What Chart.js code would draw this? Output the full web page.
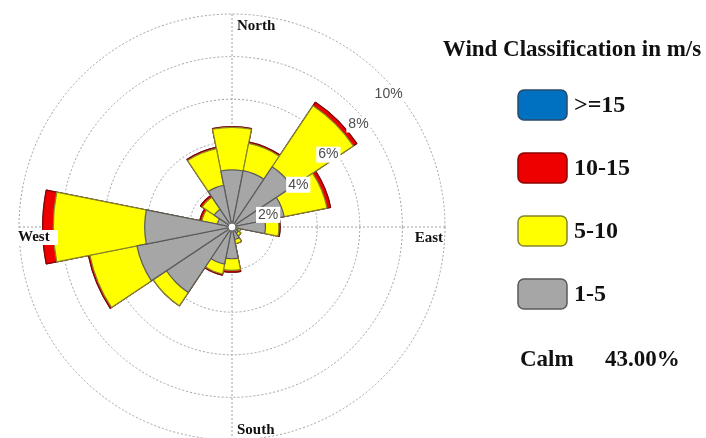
<!DOCTYPE html>
<html>
<head>
<meta charset="utf-8">
<title>Wind rose</title>
<script src="https://cdn.jsdelivr.net/npm/chart.js@4.4.0/dist/chart.umd.min.js"></script>
<style>
  html, body { margin: 0; padding: 0; background: #fff; overflow: hidden; }
  #wrap { width: 706px; height: 438px; overflow: hidden; }
</style>
</head>
<body>
<div id="wrap"><canvas id="roseChart" width="706" height="444"></canvas></div>
<script>
// 16 wind directions, clockwise from north
const directions = ['N', 'NNE', 'NE', 'ENE', 'E', 'ESE', 'SE', 'SSE', 'S', 'SSW', 'SW', 'WSW', 'W', 'WNW', 'NW', 'NNW'];

// frequency (%) of each speed class per direction
const speed1to5   = [2.68, 2.70, 3.40, 2.50, 1.57, 0.30, 0.35, 0.60, 1.49, 1.78, 3.70, 4.55, 4.10, 0.70, 1.00, 2.00];
const speed5to10  = [2.00, 1.30, 3.45, 2.05, 0.63, 0.10, 0.15, 0.20, 0.55, 0.47, 0.75, 2.25, 4.29, 0.74, 0.68, 1.75];
const speed10to15 = [0.03, 0.06, 0.20, 0.17, 0.06, 0.00, 0.00, 0.00, 0.08, 0.05, 0.00, 0.07, 0.50, 0.10, 0.10, 0.06];
const speed15plus = [0, 0, 0, 0, 0, 0, 0, 0, 0, 0, 0, 0, 0, 0, 0, 0];

const classLabels = ['1-5', '5-10', '10-15', '>=15'];
const classFill   = ['#a6a6a6', '#ffff00', '#ee0000', '#0070c0'];
const classBorder = ['#5a5a5a', '#85852c', '#8b0000', '#2b4a6b'];

const ringTicks = [2, 4, 6, 8, 10];
const compassLabels = ['North', 'East', 'South', 'West'];
const legendTitle = 'Wind Classification in m/s';
const calmPercent = 43.00;

const gridColor = '#a0a0a0';

// the rose is drawn as overlaid polar areas, so each class gets its running total
const classSeries = [speed1to5, speed5to10, speed10to15, speed15plus];
const stacked = [];
let running = directions.map(() => 0);
classSeries.forEach(function (s) {
    running = running.map((v, i) => v + s[i]);
    stacked.push(running.slice());
});

const datasets = stacked.map(function (vals, k) {
    return {
        label: classLabels[k],
        data: vals,
        backgroundColor: classFill[k],
        borderColor: classBorder[k],
        borderWidth: 1.2
    };
});

const roseDecor = {
    id: 'roseDecor',
    beforeDatasetsDraw(chart) {
        const r = chart.scales.r;
        const ctx = chart.ctx;
        const R = r.drawingArea;
        ctx.save();
        ctx.strokeStyle = gridColor;
        ctx.lineWidth = 1;
        ctx.setLineDash([2, 2]);
        ctx.beginPath();
        ctx.moveTo(r.xCenter, r.yCenter - R);
        ctx.lineTo(r.xCenter, r.yCenter + R);
        ctx.moveTo(r.xCenter - R, r.yCenter);
        ctx.lineTo(r.xCenter + R, r.yCenter);
        ctx.stroke();
        ctx.restore();
    },
    afterDatasetsDraw(chart) {
        const r = chart.scales.r;
        const ctx = chart.ctx;
        const R = r.drawingArea;
        const xc = r.xCenter, yc = r.yCenter;
        ctx.save();

        // hole in the middle
        ctx.beginPath();
        ctx.arc(xc, yc, 4, 0, Math.PI * 2);
        ctx.fillStyle = '#fff';
        ctx.fill();
        ctx.strokeStyle = '#666';
        ctx.lineWidth = 1;
        ctx.stroke();

        // ring labels along the north-east diagonal
        ctx.font = '14px "Liberation Sans", Arial, sans-serif';
        ctx.textAlign = 'center';
        ctx.textBaseline = 'middle';
        ringTicks.forEach(function (v) {
            const d = r.getDistanceFromCenterForValue(v);
            const x = xc + d * Math.SQRT1_2 + 6;
            const y = yc - d * Math.SQRT1_2 + 18;
            const txt = v + '%';
            const w = ctx.measureText(txt).width;
            ctx.fillStyle = '#fff';
            ctx.fillRect(x - w / 2 - 2, y - 8, w + 4, 16);
            ctx.fillStyle = '#4d4d4d';
            ctx.fillText(txt, x, y);
        });

        // compass labels
        ctx.font = 'bold 15px "Liberation Serif", "Times New Roman", serif';
        ctx.fillStyle = '#111';
        ctx.textAlign = 'left';
        ctx.fillText(compassLabels[0], xc + 5, yc - R + 12);
        ctx.fillText(compassLabels[2], xc + 5, yc + R - 10);
        ctx.textAlign = 'right';
        ctx.fillText(compassLabels[1], xc + R - 2, yc + 11);
        ctx.fillStyle = '#fff';
        ctx.fillRect(xc - R - 2, yc + 3, 41, 15);
        ctx.fillStyle = '#111';
        ctx.textAlign = 'left';
        ctx.fillText(compassLabels[3], xc - R - 1, yc + 10);
        ctx.restore();
    },
    afterDraw(chart) {
        const ctx = chart.ctx;
        ctx.save();
        ctx.fillStyle = '#111';
        ctx.textBaseline = 'middle';
        ctx.textAlign = 'center';
        ctx.font = 'bold 23px "Liberation Serif", "Times New Roman", serif';
        ctx.fillText(legendTitle, 572, 50);

        // legend, strongest class first
        ctx.font = 'bold 24px "Liberation Serif", "Times New Roman", serif';
        ctx.textAlign = 'left';
        for (let i = 0; i < classLabels.length; i++) {
            const k = classLabels.length - 1 - i;
            const bx = 518, by = 90 + i * 63;
            ctx.beginPath();
            ctx.roundRect(bx, by, 49, 30, 6);
            ctx.fillStyle = classFill[k];
            ctx.fill();
            ctx.lineWidth = 1.5;
            ctx.strokeStyle = classBorder[k];
            ctx.stroke();
            ctx.fillStyle = '#111';
            ctx.fillText(classLabels[k], 574, by + 16);
        }

        ctx.font = 'bold 23px "Liberation Serif", "Times New Roman", serif';
        ctx.fillText('Calm', 520, 360);
        ctx.fillText(calmPercent.toFixed(2) + '%', 605, 360);
        ctx.restore();
    }
};

window.onload = function () {
    const ctx = document.getElementById('roseChart').getContext('2d');
    window.roseChart = new Chart(ctx, {
        type: 'polarArea',
        data: {
            labels: directions,
            datasets: datasets
        },
        options: {
            responsive: false,
            animation: false,
            layout: {
                padding: { left: 19, right: 261, top: 14, bottom: 4 }
            },
            scales: {
                r: {
                    min: 0,
                    max: ringTicks[ringTicks.length - 1],
                    startAngle: -360 / directions.length / 2,
                    ticks: { display: false, stepSize: ringTicks[0] },
                    grid: { display: true, circular: true, color: gridColor, lineWidth: 1 },
                    border: { dash: [2, 2] },
                    angleLines: { display: false },
                    pointLabels: { display: false }
                }
            },
            plugins: {
                legend: { display: false },
                tooltip: { enabled: false }
            }
        },
        plugins: [roseDecor]
    });
};
</script>
</body>
</html>
